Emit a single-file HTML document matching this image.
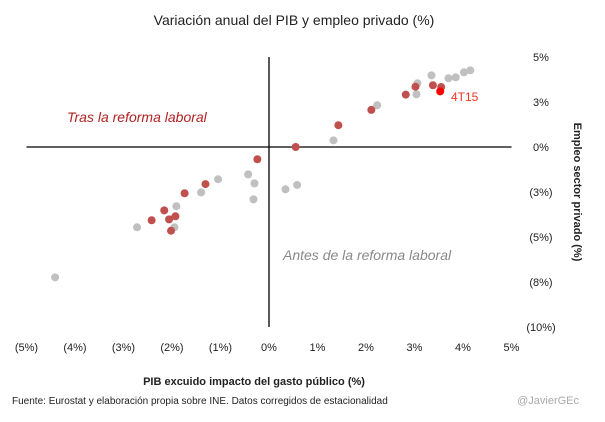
<!DOCTYPE html>
<html><head><meta charset="utf-8"><style>
body{margin:0;background:#fff;font-family:"Liberation Sans",sans-serif}
svg text{font-family:"Liberation Sans",sans-serif}
</style></head><body>
<svg id="chart" width="605" height="417" xmlns="http://www.w3.org/2000/svg">
<text x="294" y="25" text-anchor="middle" font-size="14" fill="#222">Variación anual del PIB y empleo privado (%)</text>
<g id="axes"></g>
<g id="dots"></g>
<text x="67" y="122" font-size="14" font-style="italic" fill="#b22222">Tras la reforma laboral</text>
<text x="283" y="260" font-size="14" font-style="italic" fill="#888">Antes de la reforma laboral</text>
<text x="451" y="101" font-size="12" fill="#e32">4T15</text>
<text x="254" y="385" text-anchor="middle" font-size="11" font-weight="bold" fill="#222">PIB excuido impacto del gasto público (%)</text>
<text transform="translate(574,192) rotate(90)" text-anchor="middle" font-size="11" font-weight="bold" fill="#222">Empleo  sector privado (%)</text>
<text x="12" y="404" font-size="10" fill="#222">Fuente: Eurostat y elaboración propia  sobre INE. Datos corregidos de estacionalidad</text>
<text x="579" y="404" text-anchor="end" font-size="11" fill="#aaa">@JavierGEc</text>
</svg>
<script>
const xTicks=[-5,-4,-3,-2,-1,0,1,2,3,4,5];
const xTickLabels=['(5%)','(4%)','(3%)','(2%)','(1%)','0%','1%','2%','3%','4%','5%'];
const yTicks=[5,2.5,0,-2.5,-5,-7.5,-10];
const yTickLabels=['5%','3%','0%','(3%)','(5%)','(8%)','(10%)'];
const redX=[0.55,-0.24,-1.31,-1.74,-2.16,-2.42,-2.06,-1.93,-2.02,1.43,2.11,2.82,3.02,3.38,3.55];
const redY=[0.0,-0.68,-2.06,-2.57,-3.52,-4.07,-4.02,-3.85,-4.65,1.21,2.06,2.91,3.35,3.43,3.33];
const grayX=[-4.41,-2.72,-1.95,-1.91,-1.40,-1.05,-0.43,-0.30,-0.32,0.34,0.58,1.33,2.23,3.06,3.04,3.35,3.70,3.85,4.02,4.15];
const grayY=[-7.24,-4.46,-4.46,-3.29,-2.52,-1.79,-1.52,-2.02,-2.91,-2.35,-2.11,0.37,2.32,3.54,2.93,3.98,3.82,3.87,4.15,4.26];
const lastX=[3.53];
const lastY=[3.09];
const sx=v=>269+v*48.5, sy=v=>147-v*18;
const NS="http://www.w3.org/2000/svg";
const ax=document.getElementById('axes'), dg=document.getElementById('dots');
function mk(tag,at,parent){const e=document.createElementNS(NS,tag);for(const k in at)e.setAttribute(k,at[k]);parent.appendChild(e);return e;}
let h=mk('line',{x1:sx(-5),x2:sx(5),y1:sy(0),y2:sy(0),stroke:'#000','stroke-width':1.3},ax);


let v=mk('line',{x1:sx(0),x2:sx(0),y1:sy(5),y2:sy(-10),stroke:'#000','stroke-width':1.3},ax);


xTicks.forEach((t,i)=>{const e=mk('text',{x:sx(t),y:351,'text-anchor':'middle','font-size':11,fill:'#222'},ax);e.textContent=xTickLabels[i];

});
yTicks.forEach((t,i)=>{const e=mk('text',{x:541,y:sy(t)+4,'text-anchor':'middle','font-size':11,fill:'#222'},ax);e.textContent=yTickLabels[i];

});
grayX.forEach((x,i)=>{const c=mk('circle',{cx:sx(x),cy:sy(grayY[i]),r:4,fill:'#c0c0c0'},dg);

});
redX.forEach((x,i)=>{const c=mk('circle',{cx:sx(x),cy:sy(redY[i]),r:4,fill:'#c0504d'},dg);

});
lastX.forEach((x,i)=>{const c=mk('circle',{cx:sx(x),cy:sy(lastY[i]),r:4,fill:'#f00'},dg);

});
</script>
</body></html>
